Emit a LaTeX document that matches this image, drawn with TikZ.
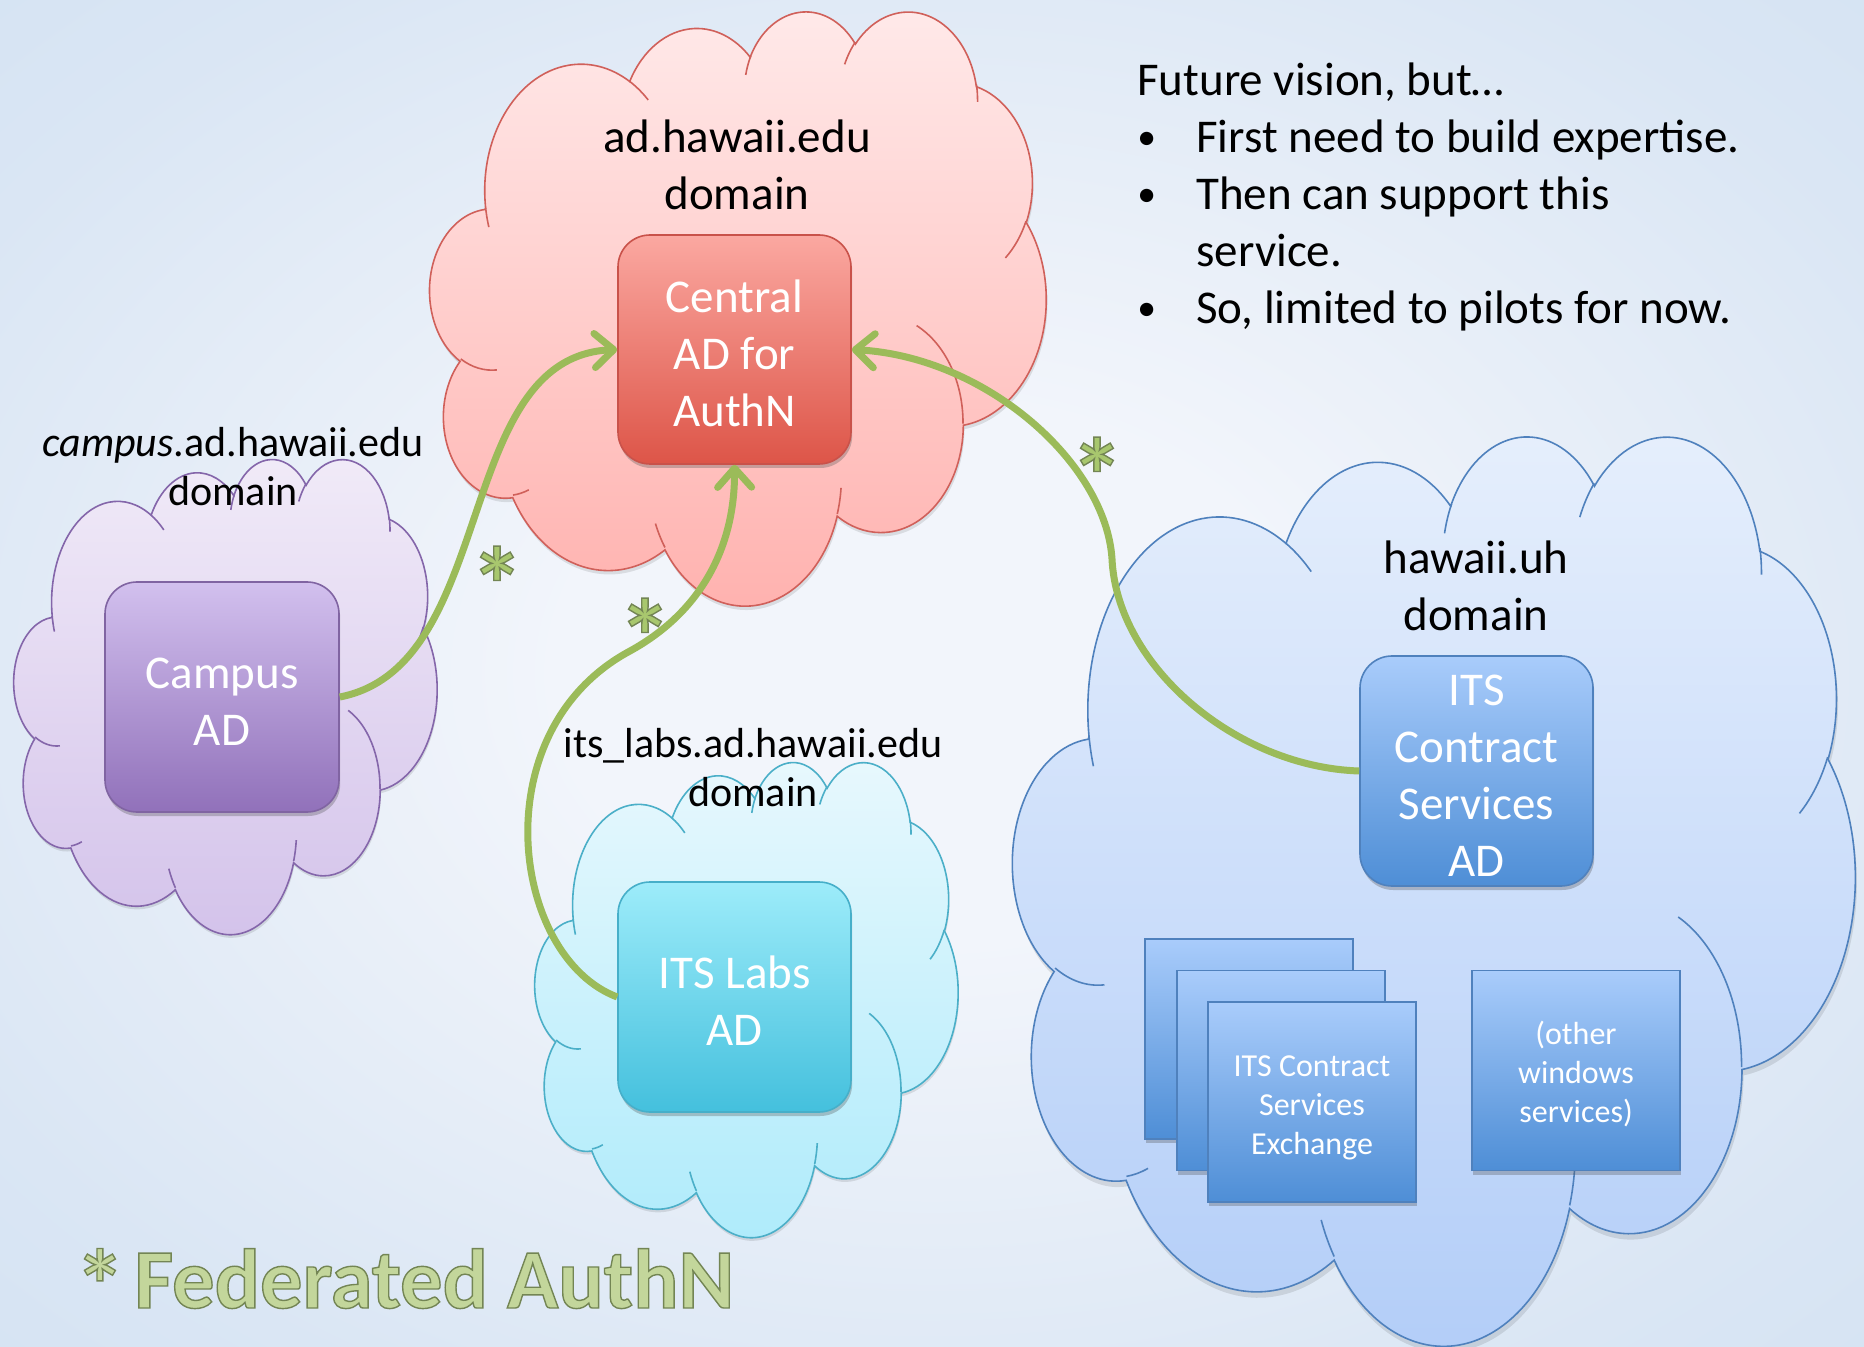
\documentclass[tikz,border=0pt]{standalone}
\usepackage{graphicx}
\usepackage{fontspec}
\setmainfont{Carlito}
\usetikzlibrary{arrows.meta,shadows}

\definecolor{bgin}{HTML}{F2F5FB}
\definecolor{bgmid}{HTML}{DAE6F4}
\definecolor{bgout}{HTML}{C8DBF0}
\definecolor{bgedge}{HTML}{C2D6EE}
\definecolor{agreen}{HTML}{9BBB59}
\definecolor{astgreen}{HTML}{A8C76E}
\definecolor{fedgreen}{HTML}{C3D69B}
\definecolor{rcTop}{HTML}{FFEAEA}
\definecolor{rcBot}{HTML}{FFB1AE}
\definecolor{rcLine}{HTML}{D0605A}
\definecolor{rbTop}{HTML}{FBA8A1}
\definecolor{rbBot}{HTML}{DD5548}
\definecolor{rbLine}{HTML}{C9524A}
\definecolor{pcTop}{HTML}{F1EBF8}
\definecolor{pcBot}{HTML}{D3C2EA}
\definecolor{pcLine}{HTML}{8466AA}
\definecolor{pbTop}{HTML}{D2C0EE}
\definecolor{pbBot}{HTML}{9171BA}
\definecolor{pbLine}{HTML}{8064A2}
\definecolor{ccTop}{HTML}{E8F8FD}
\definecolor{ccBot}{HTML}{AEEBFB}
\definecolor{ccLine}{HTML}{4BAFC8}
\definecolor{cbTop}{HTML}{9DECFA}
\definecolor{cbBot}{HTML}{44C0DD}
\definecolor{cbLine}{HTML}{46AFC9}
\definecolor{bcTop}{HTML}{E6EFFC}
\definecolor{bcBot}{HTML}{B2CDF8}
\definecolor{bcLine}{HTML}{4F81BD}
\definecolor{bbTop}{HTML}{A9CCFB}
\definecolor{bbBot}{HTML}{4E8ED6}
\definecolor{bbLine}{HTML}{4F81BD}

\pgfdeclareradialshading{bgsh}{\pgfpoint{0bp}{0bp}}{color(0bp)=(bgin); color(10bp)=(bgin); color(30bp)=(bgmid); color(55bp)=(bgout); color(72bp)=(bgedge)}

\newcommand\fntMain{\fontsize{23.5}{28.5}\selectfont}
\newcommand\fntSub{\fontsize{21}{24.5}\selectfont}
\newcommand\fntSmall{\fontsize{16}{19.5}\selectfont}
\newcommand\fntBig{\fontsize{42.3}{50}\selectfont\bfseries}
\newcommand\fntBigAst{\fontsize{50}{56}\selectfont\bfseries}
\newcommand\fntAst{\fontsize{53}{60}\selectfont\bfseries}
% outlined text (fill + thin dark stroke)
\newcommand\outl[1]{\special{pdf:literal direct 0.45 0.52 0.33 RG 0.7 w 2 Tr}#1\special{pdf:literal direct 0 Tr}}
\newcommand\bul{\makebox[29.5pt][l]{\raisebox{0.05em}{\scalebox{0.8}{•}}}}

% OOXML arcTo: visual angle -> parametric angle
\pgfmathdeclarefunction{vpa}{3}{%
  \pgfmathparse{atan2((#1)*sin(#3),(#2)*cos(#3))}%
}
\pgfmathdeclarefunction{vdel}{4}{%
  \pgfmathparse{vpa(#1,#2,(#3)+(#4))-vpa(#1,#2,#3)}%
  \let\vdtmp\pgfmathresult
  \pgfmathparse{\vdtmp+360*round(((#4)-\vdtmp)/360)}%
}

\tikzset{
  oa/.style n args={4}{x radius=#1,y radius=#2,start angle={vpa(#1,#2,#3)},delta angle={vdel(#1,#2,#3,#4)}},
  cloudline/.style={line width=0.8pt},
  cloudshadow/.style={fill=black, opacity=0.10, shift={(0.08,0.28)}},
  dlabel/.style={align=center, inner sep=0pt, text=black},
  adbox/.style={rectangle, rounded corners=16pt, line width=0.8pt, inner sep=0pt, align=center,
    text=white, font=\fntMain, drop shadow={shadow xshift=0.6pt, shadow yshift=-2pt, opacity=0.3, fill=black!70}},
  svcbox/.style={rectangle, line width=0.8pt, draw=bbLine, top color=bbTop, bottom color=bbBot,
    minimum width=104pt, minimum height=100pt, inner sep=0pt, align=center, text=white, font=\fntSmall,
    drop shadow={shadow xshift=0.6pt, shadow yshift=-2pt, opacity=0.3, fill=black!70}},
  fedarrow/.style={draw=agreen, line width=3.5pt, -{Straight Barb[length=9.5pt,width=17pt,round]}},
  ast/.style={text=astgreen, font=\fntAst, inner sep=0pt, anchor=base},
}

\newcommand\cldouter{(3.900,14.370)
 arc[oa={6.753}{9.190}{-190.4875}{123.7805}]
 arc[oa={5.333}{7.267}{-144.1024}{89.9452}]
 arc[oa={4.365}{5.945}{-145.8079}{99.7230}]
 arc[oa={4.857}{6.595}{-130.9861}{117.2417}]
 arc[oa={5.333}{7.273}{-78.7089}{109.0269}]
 arc[oa={6.775}{9.220}{-46.2673}{130.2690}]
 arc[oa={5.785}{7.867}{0.6250}{114.0333}]
 arc[oa={6.752}{9.215}{22.4516}{115.1726}]
 arc[oa={7.720}{10.543}{66.2426}{75.7110}]
 arc[oa={4.360}{5.918}{-274.9421}{146.7356}]
 arc[oa={4.345}{5.945}{-246.8285}{152.5189}]
 -- cycle}
\newcommand\cldinner{(4.693,26.177) arc[oa={4.345}{5.945}{86.7420}{26.4295}]
 (6.928,34.899) arc[oa={4.360}{5.918}{73.6105}{11.4475}]
 (16.478,39.090) arc[oa={6.752}{9.215}{137.6242}{14.0811}]
 (28.827,34.751) arc[oa={6.752}{9.215}{6.4533}{15.9984}]
 (34.129,22.954) arc[oa={5.785}{7.867}{-70.2924}{70.9174}]
 (41.798,15.354) arc[oa={5.333}{7.273}{30.3180}{27.7515}]
 (38.324,5.426) arc[oa={4.857}{6.595}{-13.7443}{14.8589}]
 (29.078,3.952) arc[oa={4.857}{6.595}{-149.1815}{18.1954}]
 (22.141,4.720) arc[oa={4.365}{5.945}{-163.4943}{17.6864}]
 (14.000,5.192) arc[oa={6.753}{9.190}{-66.7070}{12.3194}]
 (4.127,15.789) arc[oa={6.753}{9.190}{157.6544}{11.8582}]}

\begin{document}
\begin{tikzpicture}[x=0.5pt,y=-0.5pt]
\useasboundingbox (0,0) rectangle (1864,1347);
\shade[shading=bgsh] (0,0) rectangle (1864,1347);

% clouds
\begin{scope}[shift={(430,10)},xscale=616/43.2,yscale=594/43.2]
  \path[cloudshadow] \cldouter;
  \path[cloudline, draw=rcLine, top color=rcTop, bottom color=rcBot] \cldouter;
  \draw[cloudline, rcLine] \cldinner;
\end{scope}
\begin{scope}[shift={(14,458)},xscale=423/43.2,yscale=475/43.2]
  \path[cloudshadow] \cldouter;
  \path[cloudline, draw=pcLine, top color=pcTop, bottom color=pcBot] \cldouter;
  \draw[cloudline, pcLine] \cldinner;
\end{scope}
\begin{scope}[shift={(535,761)},xscale=423/43.2,yscale=475/43.2]
  \path[cloudshadow] \cldouter;
  \path[cloudline, draw=ccLine, top color=ccTop, bottom color=ccBot] \cldouter;
  \draw[cloudline, ccLine] \cldinner;
\end{scope}
\begin{scope}[shift={(1013,434)},xscale=842/43.2,yscale=909/43.2]
  \path[cloudshadow] \cldouter;
  \path[cloudline, draw=bcLine, top color=bcTop, bottom color=bcBot] \cldouter;
  \draw[cloudline, bcLine] \cldinner;
\end{scope}

% domain labels
\node[dlabel, font=\fntMain] (lblad) at (737,165) {ad.hawaii.edu\\domain};
\node[dlabel, font=\fntSub] (lblcampus) at (233,466.5) {\textit{campus}.ad.hawaii.edu\\domain};
\node[dlabel, font=\fntSub] (lbllabs) at (753,768) {its\_labs.ad.hawaii.edu\\domain};
\node[dlabel, font=\fntMain] (lbluh) at (1476,585.5) {hawaii.uh\\domain};

% AD boxes
\node[adbox, draw=rbLine, top color=rbTop, bottom color=rbBot, minimum width=116.5pt, minimum height=114.5pt] (central) at (734.5,349.5) {\strut Central\\AD for\\AuthN};
\node[adbox, draw=pbLine, top color=pbTop, bottom color=pbBot, minimum width=117pt, minimum height=115pt] (campus) at (222,697) {\strut Campus\\AD};
\node[adbox, draw=cbLine, top color=cbTop, bottom color=cbBot, minimum width=116.5pt, minimum height=115pt] (labs) at (734.5,997) {\strut ITS Labs\\AD};
\node[adbox, draw=bbLine, top color=bbTop, bottom color=bbBot, minimum width=116.5pt, minimum height=115pt] (contract) at (1476.5,771) {\strut ITS\\Contract\\Services\\AD};

% service boxes
\node[svcbox] (svc1) at (1249,1039) {};
\node[svcbox] (svc2) at (1281,1070.5) {};
\node[svcbox] (svc3) at (1312,1102) {\rule{0pt}{19.65pt}ITS Contract\\Services\\Exchange\strut};
\node[svcbox] (svc4) at (1576,1070.5) {\rule{0pt}{18.6pt}(other\\windows\\services)\strut};

% federation arrows
\coordinate (m2) at (630,651);
\coordinate (m3) at (1112,559);
\draw[fedarrow] (campus.east) .. controls (499,666) and (452,357) .. (central.west);
\draw[fedarrow] (labs.west) .. controls (511,957) and (481,731) .. (m2) .. controls (701,612) and (735,547) .. (central.south);
\draw[fedarrow] (contract.west) .. controls (1236,767) and (1117,666) .. (m3) .. controls (1106,464) and (987,357) .. (central.east);

% asterisks
\node[ast] (ast1) at (497,622) {\outl{*}};
\node[ast] (ast2) at (645,674) {\outl{*}};
\node[ast] (ast3) at (1097,513) {\outl{*}};

% notes
\node[anchor=north west, inner sep=0pt, align=left, font=\fntMain] (vision) at (1137,62) {Future vision, but…\\
\bul First need to build expertise.\\
\bul Then can support this\\
\hspace*{29.5pt}service.\\
\bul So, limited to pilots for now.};

% legend
\node[anchor=base, inner sep=0pt, font=\fntBigAst, text=fedgreen] (fedast) at (100,1320) {\outl{*}};
\node[anchor=base west, inner sep=0pt, font=\fntBig, text=fedgreen] (fed) at (134,1308) {\outl{Federated AuthN}};
\end{tikzpicture}
\end{document}
